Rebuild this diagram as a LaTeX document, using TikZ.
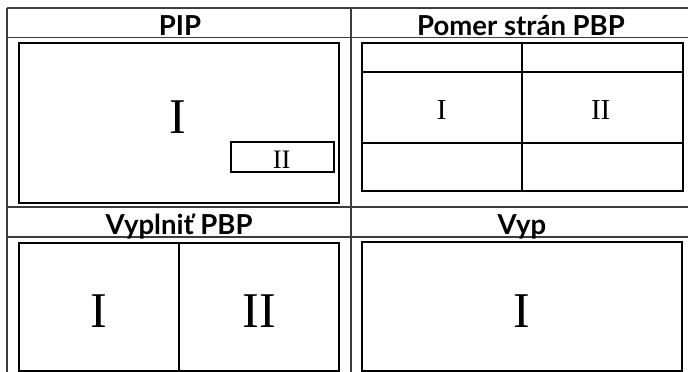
\documentclass[tikz,border=0pt]{standalone}
\usepackage{fontspec}
\setmainfont{Liberation Serif}
\newfontfamily\hdfont{Lato}
\definecolor{gridc}{RGB}{60,60,60}
\begin{document}
\begin{tikzpicture}[x=1pt,y=-1pt,
  gridline/.style={draw=gridc,line width=1.8pt},
  box/.style={draw=black,line width=2pt},
  hd/.style={font=\hdfont\bfseries\fontsize{27.5}{31}\selectfont,anchor=base,inner sep=0pt},
  num/.style={anchor=base,inner sep=0pt}]
\useasboundingbox (0,0) rectangle (688,372);
\fill[white] (0,0) rectangle (688,372);
% table grid
\draw[gridline] (7,8) -- (692,8);
\draw[gridline] (7,37.5) -- (692,37.5);
\draw[gridline] (7,206.7) -- (692,206.7);
\draw[gridline] (7,236.7) -- (692,236.7);
\draw[gridline] (7,8) -- (7,376);
\draw[gridline] (350.7,8) -- (350.7,376);
% PIP
\draw[box] (19,42.7) rectangle (339,202.5);
\draw[box] (230.7,141.7) rectangle (334.3,172.3);
% Pomer stran PBP
\draw[box] (362.3,42.7) rectangle (683,191);
\draw[box] (362.3,72.3) -- (683,72.3);
\draw[box] (362.3,142.7) -- (683,142.7);
\draw[box] (522.3,42.7) -- (522.3,191);
% Vyplnit PBP
\draw[box] (19,243.3) rectangle (339,371);
\draw[box] (179.3,243.3) -- (179.3,371);
% Vyp
\draw[box] (361.7,242.3) rectangle (682.3,371);
% headers
\node[hd] (h1) at (180,35) {PIP};
\node[hd] (h2) at (521,35) {Pomer strán PBP};
\node[hd] (h3) at (179,234) {Vyplniť PBP};
\node[hd] (h4) at (522,234) {Vyp};
% numerals
\node[num,font=\fontsize{50}{55}\selectfont] (p1) at (178,133.3) {I};
\node[num,font=\fontsize{26.7}{30}\selectfont] (p2) at (281.7,168.3) {II};
\node[num,font=\fontsize{29}{32}\selectfont] (r1) at (441.7,119.3) {I};
\node[num,font=\fontsize{29}{32}\selectfont] (r2) at (600.7,119.3) {II};
\node[num,font=\fontsize{50}{55}\selectfont] (f1) at (99,327.7) {I};
\node[num,font=\fontsize{50}{55}\selectfont] (f2) at (259.3,327.7) {II};
\node[num,font=\fontsize{50}{55}\selectfont] (v1) at (522.3,327.7) {I};
\end{tikzpicture}
\end{document}
